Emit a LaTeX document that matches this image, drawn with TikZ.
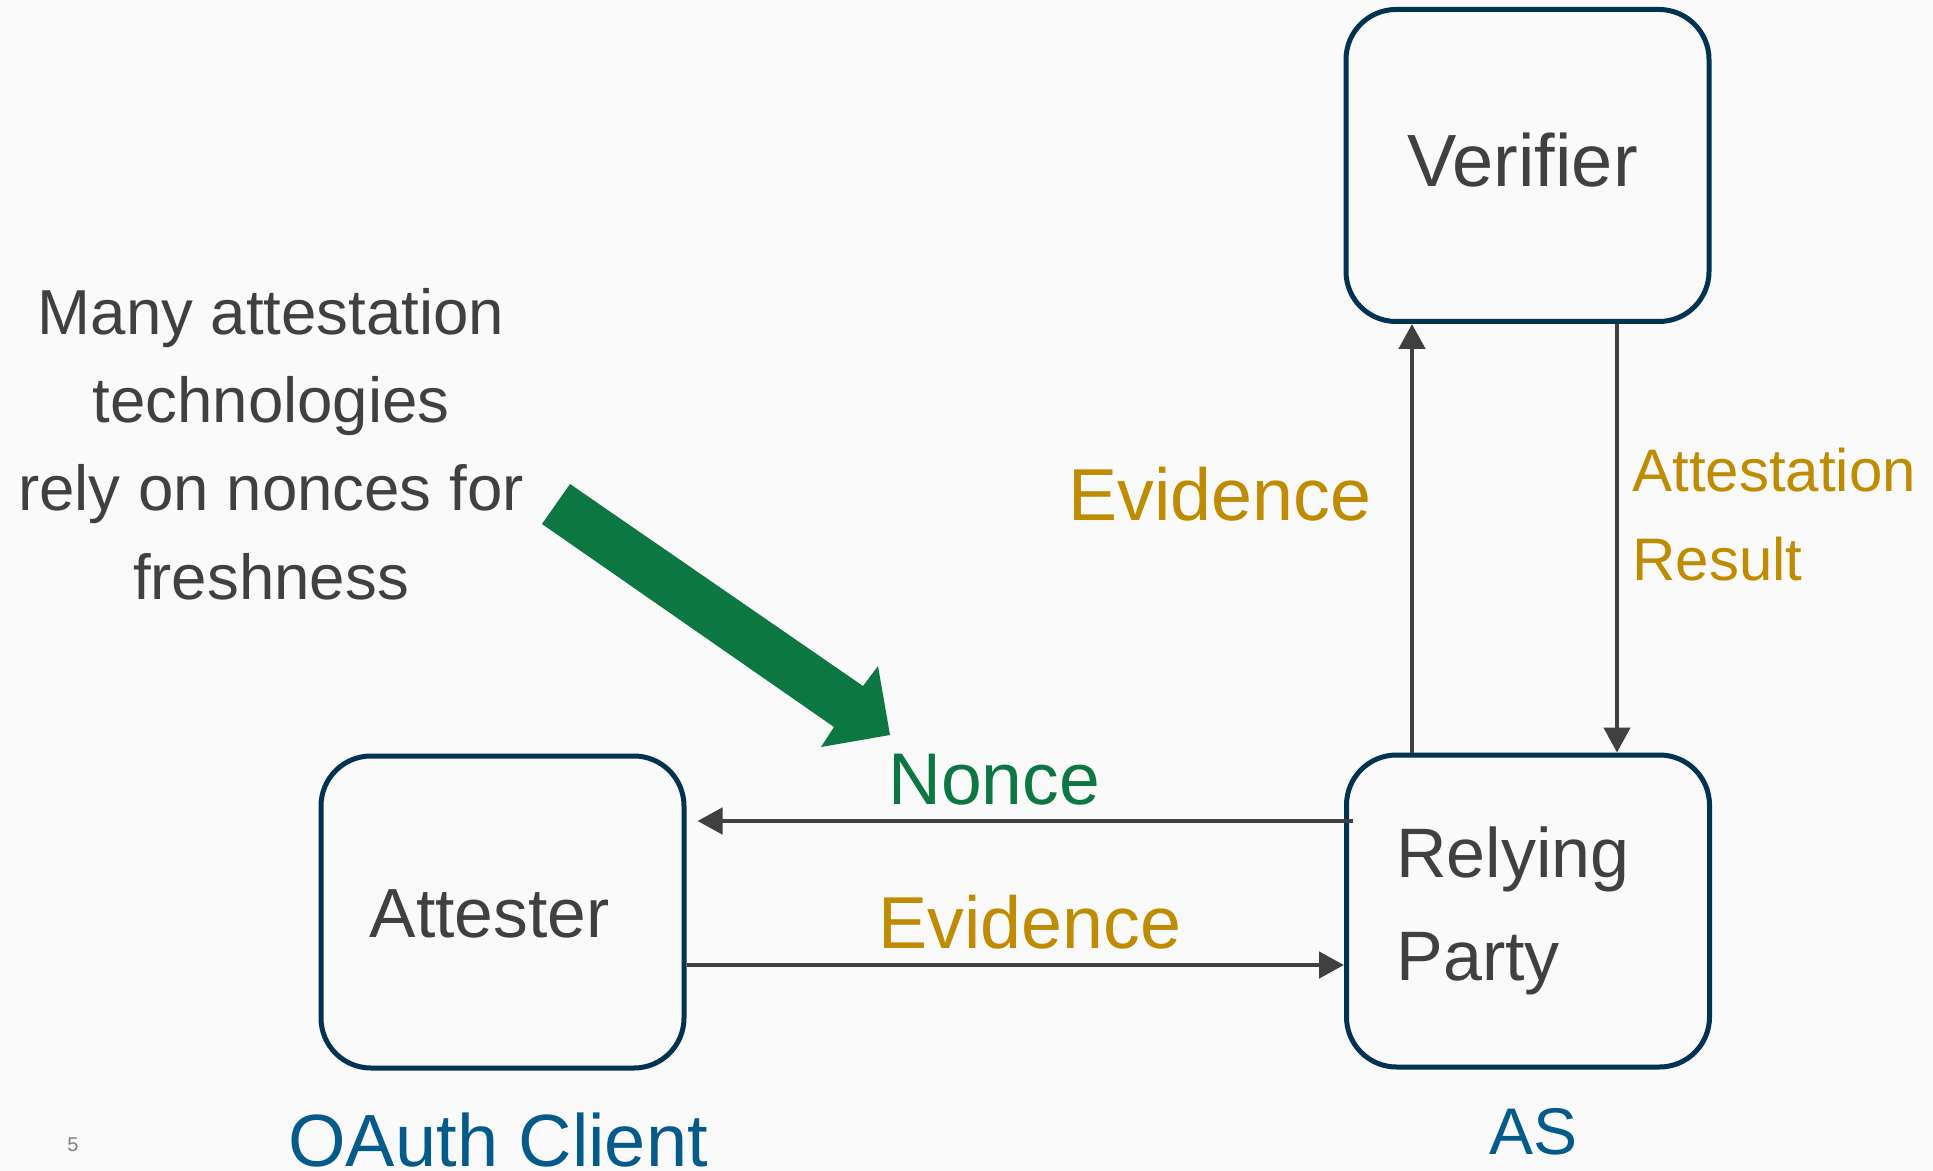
\documentclass[tikz,border=0pt]{standalone}
\usepackage{fontspec}
\setmainfont{Liberation Sans}
\usetikzlibrary{arrows.meta,calc}
\definecolor{bg}{RGB}{250,250,250}
\definecolor{boxc}{RGB}{0,51,82}
\definecolor{txtc}{RGB}{64,64,64}
\definecolor{goldc}{RGB}{191,139,0}
\definecolor{grnc}{RGB}{12,119,66}
\definecolor{bluc}{RGB}{5,90,140}
\definecolor{arrc}{RGB}{64,64,64}
\definecolor{numc}{RGB}{128,128,128}
\begin{document}
\begin{tikzpicture}[x=0.5pt,y=-0.5pt,
  box/.style={draw=boxc, line width=2.5pt, rounded corners=25pt, fill=bg,
    minimum width=181.5pt, minimum height=156pt, inner sep=0pt},
  lbl/.style={inner sep=0pt, anchor=base west, text=txtc},
  conn/.style={draw=arrc, line width=2.4pt, -{Triangle[length=12.5pt,width=13pt]}}
]
\fill[bg] (0,0) rectangle (1933,1171);
\useasboundingbox (0,0) rectangle (1933,1171);

% boxes
\node[box] (ver) at (1527.5,165.5) {};
\node[box] (rp)  at (1528,911) {};
\node[box] (att) at (502.5,912) {};

% box texts
\node[lbl, anchor=base, font=\fontsize{37}{44}\selectfont] (vert) at (1522.5,187) {Verifier};
\node[lbl, anchor=base, font=\fontsize{34.8}{42}\selectfont] (attt) at (489.5,937) {Attester};
\node[lbl, font=\fontsize{35}{42}\selectfont] (rpt1) at (1396,877) {Relying};
\node[lbl, font=\fontsize{35}{42}\selectfont] (rpt2) at (1396,980) {Party};

% connectors
\draw[conn] (1412,0 |- rp.north) -- (1412,0 |- ver.south);
\draw[conn] (1617,0 |- ver.south) -- (1617,0 |- rp.north);
\draw[conn] ($(rp.west |- 0,821)+(9,0)$) -- ($(att.east |- 0,821)+(11,0)$);
\draw[conn] (att.east |- 0,965) -- (rp.west |- 0,965);

% connector labels
\node[lbl, text=goldc, font=\fontsize{36.8}{44}\selectfont] (ev1) at (1068,520) {Evidence};
\node[lbl, text=goldc, font=\fontsize{30}{36}\selectfont] (ar1) at (1632,492) {Attestation};
\node[lbl, text=goldc, font=\fontsize{30}{36}\selectfont] (ar2) at (1632,580) {Result};
\node[lbl, text=grnc, font=\fontsize{36.6}{44}\selectfont] (non) at (888,804) {Nonce};
\node[lbl, text=goldc, font=\fontsize{36.8}{44}\selectfont] (ev2) at (878,948) {Evidence};

% note text
\node[lbl, anchor=base, font=\fontsize{31.8}{38}\selectfont] (n1) at (271,335) {Many attestation};
\node[lbl, anchor=base, font=\fontsize{31.8}{38}\selectfont] (n2) at (271,423) {technologies};
\node[lbl, anchor=base, font=\fontsize{31.8}{38}\selectfont] (n3) at (271,510) {rely on nonces for};
\node[lbl, anchor=base, font=\fontsize{31.8}{38}\selectfont] (n4) at (271,599) {freshness};

% green block arrow
\fill[grnc] (570,484) -- (863,686) -- (878,666) -- (890,735) -- (821,747) -- (834,727) -- (542,524) -- cycle;

% role labels
\node[lbl, text=bluc, font=\fontsize{37}{44}\selectfont] (oc) at (288,1166) {OAuth Client};
\node[lbl, text=bluc, font=\fontsize{33}{40}\selectfont] (as) at (1489,1154) {AS};
\node[lbl, anchor=base, text=numc, font=\fontsize{10}{12}\selectfont] (pg) at (73,1151) {5};
\end{tikzpicture}
\end{document}
